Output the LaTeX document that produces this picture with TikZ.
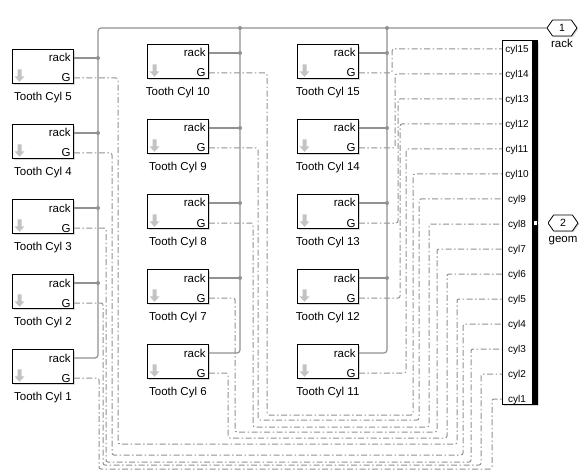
\documentclass[tikz,border=0pt]{standalone}
\usepackage{fontspec}
\setmainfont{Liberation Sans}
\usetikzlibrary{positioning,shapes.symbols,shadows}
\definecolor{wiregray}{RGB}{145,145,145}
\definecolor{icongray}{RGB}{195,195,195}

\begin{document}
\begin{tikzpicture}[
  x=1pt, y=-1pt, every node/.style={font=\fontsize{11.5}{13}\selectfont},
  blk/.style={draw, fill=white, line width=0.8pt, anchor=north west,
              minimum width=61pt, minimum height=34pt, inner sep=0pt,
              drop shadow={shadow xshift=1.5pt, shadow yshift=-1.5pt, opacity=0.3}},
  port/.style={anchor=base east, inner sep=0pt},
  blkname/.style={anchor=base, inner sep=0pt},
  cylport/.style={anchor=base, inner sep=0pt, font=\fontsize{10}{12}\selectfont},
  outport/.style={draw, fill=white, line width=0.8pt, signal, signal to=east and west,
              signal pointer angle=110, minimum width=30pt, minimum height=16pt,
              inner sep=0pt, font=\fontsize{10.5}{12}\selectfont,
              drop shadow={shadow xshift=1.2pt, shadow yshift=-1.2pt, opacity=0.3}},
  wire/.style={draw=wiregray, line width=1.2pt, rounded corners=3pt},
  sig/.style={draw=wiregray, line width=1pt, rounded corners=2pt,
              dash pattern=on 6pt off 2.5pt on 1.5pt off 2.5pt},
  dot/.style={fill=wiregray},
  icon/.style={fill=icongray}
]
  \useasboundingbox (0,0) rectangle (586,473);

  \foreach \i/\x/\y in {1/12/349, 2/12/274, 3/12/199, 4/12/124, 5/12/49,
                        6/147/344, 7/147/269, 8/147/194, 9/147/119, 10/147/44,
                        11/297/344, 12/297/269, 13/297/194, 14/297/119, 15/297/44} {
    \node[blk] (b\i) at (\x,\y) {};
    \coordinate (r\i) at ([yshift=-9pt]b\i.north east);
    \coordinate (g\i) at ([yshift=-29pt]b\i.north east);
    \node[port] (rt\i) at ([shift={(-3pt,-4pt)}]r\i) {rack};
    \node[port] (gt\i) at ([shift={(-3pt,-4pt)}]g\i) {G};
    \fill[icon] ([shift={(7.5pt,2pt)}]b\i.south west) -- ++(-5,-5.5) -- ++(3,0)
      -- ++(0,-7) -- ++(4,0) -- ++(0,7) -- ++(3,0) -- cycle;
    \node[blkname] (n\i) at ([yshift=-17pt]b\i.south) {Tooth Cyl \i};
  }

  \node[blk, minimum width=35pt, minimum height=364pt] (bus) at (502,40) {};
  \fill ([xshift=-6pt]bus.north east) rectangle (bus.south east);
  \foreach \i in {1,...,15} {
    \coordinate (c\i) at (502,{49+25*(15-\i)});
    \node[cylport] (cl\i) at ([shift={(15pt,-3.5pt)}]c\i) {cyl\i};
  }

  \node[outport] (out1) at (562,28) {1};
  \node[anchor=base] (rackname) at ([yshift=-20pt]out1.center) {rack};
  \node[outport] (out2) at (563,223) {2};
  \node[anchor=base] (geomname) at ([yshift=-19pt]out2.center) {geom};
  \node[draw, fill=white, inner sep=0pt, minimum width=4pt, minimum height=5pt,
        line width=0.5pt, anchor=east] (bo) at (bus.east |- out2) {};
  \draw[double=white, double distance=1.4pt, line width=0.7pt] (bo.east) -- (out2.west);

  \coordinate (j1) at (98,28);
  \coordinate (j2) at (240,28);
  \coordinate (j3) at (387,28);
  \draw[wire] (out1.west) -- (j1) |- (r1);
  \draw[wire] (j2) |- (r6);
  \draw[wire] (j3) |- (r11);
  \fill[dot] (j2) circle (2pt);
  \fill[dot] (j3) circle (2pt);
  \foreach \i/\j in {2/1, 3/1, 4/1, 5/1, 7/2, 8/2, 9/2, 10/2, 12/3, 13/3, 14/3, 15/3} {
    \draw[wire] (r\i) -- (r\i -| j\j);
    \fill[dot] (r\i -| j\j) circle (2pt);
  }

  \foreach \i/\xa/\yb/\xc in {1/99/469/492, 2/103/465/481, 3/106/462/471,
                             4/112/455/463, 5/118/444/457, 6/228/438/447,
                             7/235/432/437, 8/253/427/429, 9/258/420/419,
                             10/267/415/413}
    \draw[sig] (g\i) -| (\xa,\yb) -- (\xc,\yb) |- (c\i);
  \foreach \i/\xa in {11/406, 12/400, 13/398, 14/395, 15/392}
    \draw[sig] (g\i) -| (\xa,{49+25*(15-\i)}) -- (c\i);
\end{tikzpicture}
\end{document}
